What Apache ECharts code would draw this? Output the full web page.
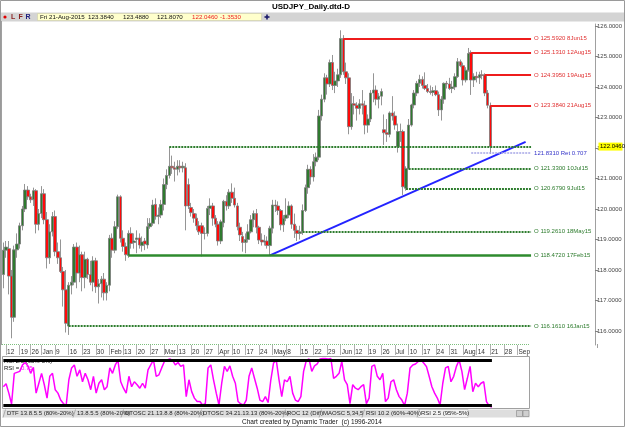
<!DOCTYPE html>
<html><head><meta charset="utf-8">
<script src="https://cdn.jsdelivr.net/npm/echarts@6/dist/echarts.min.js"></script>
<style>html,body{margin:0;padding:0;background:#fff}#c{width:625px;height:427px}</style>
</head><body><div id="c"></div>
<script>
// ---- calendar (trading days, Dec 25 and Jan 1 absent from the feed) ----
const startDay = [2014, 11, 11];
const skipDays = ['2014-12-25', '2015-01-01'];
const slotCount = 218;      // main panel slots (incl. future space)
const rsiSlotCount = 193;   // RSI panel slots
const monthNames = ['Jan','Feb','Mar','Apr','May','Jun','Jul','Aug','Sep','Oct','Nov','Dec'];

// ---- price data (Dec 11 2014 .. Aug 21 2015) ----
const openP = [117.85,118.65,118.70,117.80,116.45,118.66,118.85,119.45,120.00,120.62,
120.40,120.30,120.60,119.50,119.85,120.50,119.65,118.40,119.25,119.75,
118.60,118.40,117.95,117.35,116.161,117.50,117.60,118.75,117.90,118.50,
117.75,118.35,117.85,117.60,118.30,117.45,117.55,117.70,117.25,117.50,
119.04,118.65,119.42,120.40,119.04,118.77,118.472,119.20,118.90,119.00,
119.05,118.80,118.95,118.82,119.42,119.53,120.15,119.75,119.80,120.15,
120.80,121.10,121.40,121.35,121.30,121.40,121.35,121.35,120.80,120.05,
119.85,119.70,119.45,119.45,119.20,119.20,120.02,120.10,119.70,119.50,
118.95,119.55,120.25,120.10,120.55,120.35,120.10,119.40,119.10,118.90,
119.00,119.25,119.65,119.85,119.40,118.98,118.92,118.95,118.80,119.37,
120.13,120.10,119.95,119.48,119.70,119.80,120.10,119.50,119.30,119.20,
119.261,119.95,120.70,121.30,121.05,121.55,121.70,123.05,123.60,124.30,
124.10,124.80,124.05,124.20,124.40,125.592,124.50,124.30,122.70,123.45,
123.40,123.30,123.45,123.40,122.75,122.95,123.80,123.90,123.60,123.70,
122.60,122.50,122.45,123.15,123.05,122.04,122.54,122.54,120.679,121.33,
122.75,123.41,123.80,124.12,124.25,124.05,123.95,123.85,123.82,123.88,
123.75,123.25,123.60,124.12,124.10,123.95,124.00,124.34,124.83,124.70,
124.23,124.55,125.131,124.23,124.35,124.30,124.40,124.395,123.80,123.384];
const highP = [118.90,118.95,118.95,118.00,118.80,119.20,119.55,120.10,120.82,120.75,
120.50,120.70,120.65,120.00,120.75,120.65,119.90,119.50,119.90,119.95,
118.90,119.00,118.10,118.00,117.60,117.80,118.85,118.90,118.80,118.60,
118.60,118.40,118.30,118.45,118.40,117.70,117.80,117.90,117.60,119.15,
119.20,119.60,120.47,120.45,119.30,118.90,119.30,119.40,119.20,119.30,
119.20,119.10,119.05,119.70,119.70,120.30,120.35,120.05,120.30,121.00,
121.30,122.03,121.75,121.55,121.60,121.60,121.55,121.50,121.00,120.20,
120.00,119.85,119.60,119.55,119.40,120.10,120.35,120.20,119.80,119.60,
119.65,120.30,120.45,120.65,120.84,120.70,120.20,119.55,119.25,119.20,
119.50,119.80,119.95,120.00,119.45,119.20,119.15,119.10,119.45,120.30,
120.30,120.25,120.00,119.80,120.35,120.25,120.15,119.85,119.45,119.45,
120.15,120.80,121.45,121.40,121.80,121.85,123.25,123.75,124.45,124.40,
124.90,125.05,124.50,124.60,125.86,125.70,124.80,124.45,123.80,123.70,
123.50,123.60,123.90,123.55,123.10,123.90,124.45,124.05,123.80,123.95,
123.10,122.95,123.20,123.70,123.20,122.80,122.80,122.60,121.40,122.95,
123.45,123.90,124.20,124.40,124.35,124.48,124.10,124.05,124.00,124.05,
123.85,123.70,124.15,124.20,124.30,124.20,124.45,124.95,124.90,124.80,
124.65,125.28,125.20,124.45,124.50,124.50,124.55,124.45,123.90,123.488];
const lowP = [117.40,118.40,117.20,115.76,116.30,118.40,118.70,119.30,119.90,120.30,
120.20,120.10,119.20,119.30,119.70,119.50,118.05,118.20,119.10,118.45,
118.20,117.90,116.80,115.95,115.87,117.20,117.50,117.40,117.60,117.30,
117.40,117.70,117.50,117.30,117.25,116.90,117.10,117.00,117.00,117.30,
118.40,118.55,119.35,118.90,118.60,118.30,118.40,118.70,118.70,118.55,
118.70,118.60,118.65,118.70,119.35,119.45,119.65,119.50,119.70,119.95,
120.65,121.00,121.15,120.90,121.10,121.20,121.20,119.30,120.00,119.75,
119.55,119.30,119.15,118.44,119.00,119.10,119.80,119.45,119.40,118.80,
118.85,119.40,119.95,120.00,120.20,120.05,119.30,118.95,118.60,118.55,
118.90,119.20,119.40,119.20,118.85,118.80,118.80,118.70,118.47,119.20,
119.90,119.80,119.30,119.25,119.60,119.70,119.35,119.05,118.95,119.00,
119.15,119.90,120.50,120.80,120.90,121.40,121.60,122.90,123.50,123.75,
124.00,123.90,123.80,124.00,124.30,124.40,124.10,122.45,122.60,123.10,
122.90,123.10,123.10,122.45,122.50,122.85,123.50,123.40,123.30,123.40,
122.10,122.20,122.35,122.90,122.60,121.85,122.20,120.46,120.60,121.30,
122.70,123.30,123.70,124.00,123.95,123.90,123.80,123.75,123.70,123.70,
123.05,122.90,123.45,123.95,123.90,123.80,123.90,124.30,124.65,124.05,
124.15,124.50,123.74,124.00,124.15,124.10,124.25,123.70,123.30,121.807];
const closeP = [118.65,118.75,117.80,116.45,118.66,118.85,119.45,120.00,120.62,120.40,
120.30,120.60,119.50,119.85,120.50,119.65,118.40,119.25,119.75,118.60,
118.40,117.95,117.35,116.25,117.50,117.60,118.75,117.90,118.50,117.75,
118.35,117.85,117.60,118.30,117.45,117.55,117.70,117.25,117.50,119.04,
118.65,119.42,120.40,119.04,118.77,118.50,119.20,118.87,118.95,119.05,
118.82,118.92,118.85,119.42,119.53,120.13,119.75,119.80,120.15,120.80,
121.10,121.40,121.35,121.30,121.40,121.35,121.40,120.10,120.10,119.88,
119.70,119.45,119.25,119.20,119.20,120.02,120.10,119.70,119.50,118.95,
119.58,120.25,120.10,120.55,120.35,120.13,119.42,119.15,118.90,119.00,
119.25,119.65,119.85,119.40,118.98,118.92,118.95,118.80,119.37,120.13,
120.10,119.95,119.48,119.70,119.80,120.10,119.50,119.30,119.20,119.25,
119.95,120.70,121.30,121.05,121.55,121.70,123.05,123.60,124.30,124.10,
124.80,124.05,124.20,124.40,125.59,124.50,124.30,122.70,123.45,123.40,
123.30,123.45,123.40,122.75,122.95,123.80,123.90,123.60,123.70,123.85,
122.50,122.45,123.15,123.05,122.75,122.54,122.54,120.73,121.33,122.75,
123.41,123.80,124.12,124.25,124.05,123.95,123.85,123.82,123.88,123.75,
123.25,123.60,124.12,124.10,123.95,124.00,124.34,124.83,124.70,124.23,
124.55,125.10,124.23,124.35,124.30,124.40,124.38,123.80,123.40,122.046];

// ---- RSI 2.5 values ----
const rsiVals = [42,48,29,7,69,71,73,86,91,84,
69,81,29,49,69,46,19,63,69,36,
29,15,8,4,56,80,86,63,76,52,
69,56,36,63,29,49,56,36,42,80,
69,86,95,52,39,29,63,42,52,46,
39,49,39,76,86,96,63,66,80,93,
96,98,95,86,91,83,86,22,56,32,
19,12,12,5,8,80,86,56,29,5,
49,83,73,84,63,49,12,7,5,15,
63,80,59,39,15,12,22,10,56,90,
95,56,22,56,52,63,29,15,12,22,
73,95,98,73,84,88,98,99,99,98,
99,59,63,69,93,56,46,8,46,39,
36,42,46,8,19,83,86,63,56,69,
12,19,52,56,36,22,15,4,29,80,
86,88,93,96,90,83,63,42,29,19,
5,49,80,83,52,63,83,96,73,36,
59,83,32,49,42,49,52,12,3,0.75];
const rsiBands = [95, 5];

// ---- horizontal levels ----
const levelPrices = [125.592, 125.131, 124.395, 123.384, 122.030, 121.831, 121.330, 120.679, 119.261, 118.472, 116.161];
const levelStarts = ['2015-06-08','2015-08-12','2015-08-19','2015-08-21','2015-03-10','2015-08-12','2015-07-10','2015-07-09','2015-05-18','2015-02-17','2015-01-16'];
const levelTexts = ['O 125.5920 8Jun15','O 125.1310 12Aug15','O 124.3950 19Aug15','O 123.3840 21Aug15','','121.8310 Ret 0.707','O 121.3300 10Jul15','O 120.6790 9Jul15','O 119.2610 18May15','O 118.4720 17Feb15','O 116.1610 16Jan15'];
const levelKinds = ['r','r','r','r','g','b','g','g','g','G','g'];
const levelEndDate = '2015-09-11';

// ---- trend line (two anchors) ----
const trendDates = ['2015-04-30', '2015-09-09'];
const trendPrices = [118.48, 122.20];

const lastPrice = 122.046;
const priceTicks = [116,117,118,119,120,121,122,123,124,125,126];

// ---------------------------------------------------------------
function buildDates() {
  const d = new Date(Date.UTC(startDay[0], startDay[1], startDay[2]));
  const out = [];
  while (out.length < slotCount) {
    const dow = d.getUTCDay();
    const s = d.toISOString().slice(0, 10);
    if (dow !== 0 && dow !== 6 && skipDays.indexOf(s) < 0) out.push(s);
    d.setUTCDate(d.getUTCDate() + 1);
  }
  return out;
}
const dates = buildDates();
const idx = s => dates.indexOf(s);
const ohlc = openP.map((o, i) => [o, closeP[i], lowP[i], highP[i]]);

const FONT = 'Liberation Sans, Arial, sans-serif';
function showTick(i) {
  if (i > 190) return false;
  const d = new Date(dates[i] + 'T00:00:00Z');
  return d.getUTCDay() === 5;
}
function tickText(v) {
  const d = new Date(v + 'T00:00:00Z');
  const day = d.getUTCDate();
  return day <= 7 ? monthNames[d.getUTCMonth()] : String(day);
}

const kindStyle = {
  r: {color: '#ee1c1c', width: 2, type: 'solid', txt: '#e03030'},
  g: {color: '#2e7d2e', width: 2, type: [2, 1], txt: '#2b7a2b'},
  G: {color: '#2e8b2e', width: 2.5, type: 'solid', txt: '#2b7a2b'},
  b: {color: '#a6a6e6', width: 1.5, type: [2, 1], txt: '#3434c8'}
};
const endIdx = idx(levelEndDate);
const levelLines = levelPrices.map((p, i) => {
  const st = kindStyle[levelKinds[i]];
  return [{
    coord: [idx(levelStarts[i]), p],
    lineStyle: {color: st.color, width: st.width, type: st.type},
    label: {show: levelTexts[i] !== '', position: 'end', distance: 3, formatter: levelTexts[i],
            color: st.txt, fontSize: 6, fontFamily: FONT}
  }, {coord: [endIdx, p]}];
});

const chart = echarts.init(document.getElementById('c'), null, {renderer: 'canvas'});

const tabs = [
  ['DTF 13.8.5.5 (80%-20%)', 7], ['13.8.5.5 (80%-20%)', 77], ['DTOSC 21.13.8.8 (80%-20%)', 125],
  ['DTOSC 34.21.13.13 (80%-20%)', 203], ['ROC 12 (Diff)', 287], ['MAOSC 5,34,5', 323],
  ['RSI 10.2 (60%-40%)', 366], ['RSI 2.5 (95%-5%)', 421]
];
const txt = (t, x, y, o) => Object.assign({type: 'text', x: x, y: y, silent: true,
  style: Object.assign({text: t, font: '6.5px ' + FONT, fill: '#111', align: 'left', verticalAlign: 'middle',
    textAlign: 'left', textVerticalAlign: 'middle'}, o || {})});

const graphics = [
  {type: 'rect', shape: {x: 0.5, y: 0.5, width: 624, height: 426}, style: {fill: 'none', stroke: '#9a9a9a'}, silent: true},
  txt('USDJPY_Daily.dtd-D', 311, 6.5, {font: 'bold 8px ' + FONT, align: 'center', textAlign: 'center', fill: '#000'}),
  {type: 'rect', shape: {x: 1, y: 12.5, width: 623, height: 9}, style: {fill: '#d4d4d4'}, silent: true},
  {type: 'circle', shape: {cx: 5, cy: 17, r: 1.6}, style: {fill: '#e00000'}, silent: true},
  txt('L', 11, 17, {font: 'bold 7px ' + FONT, fill: '#8a2020'}),
  txt('F', 18.5, 17, {font: 'bold 7px ' + FONT, fill: '#8a2020'}),
  txt('R', 25.5, 17, {font: 'bold 7px ' + FONT, fill: '#202080'}),
  {type: 'rect', shape: {x: 37.5, y: 13.5, width: 224, height: 7}, style: {fill: '#ffffcc', stroke: '#c8c8a0', lineWidth: 0.5}, silent: true},
  txt('Fri 21-Aug-2015', 40, 17.2, {font: '6.2px ' + FONT}),
  txt('123.3840', 88, 17.2, {font: '6.2px ' + FONT}), txt('123.4880', 123, 17.2, {font: '6.2px ' + FONT}),
  txt('121.8070', 157, 17.2, {font: '6.2px ' + FONT}),
  txt('122.0460', 192, 17.2, {font: '6.2px ' + FONT, fill: '#ee2020'}),
  txt('-1.3530', 220, 17.2, {font: '6.2px ' + FONT, fill: '#ee2020'}),
  {type: 'rect', shape: {x: 264.5, y: 16.2, width: 5, height: 1.6}, style: {fill: '#1a1a6a'}, silent: true},
  {type: 'rect', shape: {x: 266.2, y: 14.5, width: 1.6, height: 5}, style: {fill: '#1a1a6a'}, silent: true},
  {type: 'line', shape: {x1: 1.5, y1: 21, x2: 1.5, y2: 345}, style: {stroke: '#a0a0a0'}, silent: true},
  {type: 'line', shape: {x1: 2, y1: 344.5, x2: 530, y2: 344.5}, style: {stroke: '#7cbf7c', lineDash: [1, 1]}, silent: true},
  {type: 'line', shape: {x1: 597.5, y1: 344, x2: 597.5, y2: 348}, style: {stroke: '#a0a0a0'}, silent: true},
  {type: 'rect', shape: {x: 2.5, y: 356.5, width: 527, height: 52}, style: {fill: 'none', stroke: '#a0a0a0'}, silent: true},
  txt('RSI 2.5 (95%-5%)', 4, 361.2, {font: '6px ' + FONT}),
  txt('RSI =', 4, 368, {font: '6px ' + FONT}),
  txt('0.75', 21, 368, {font: '6px ' + FONT, fill: '#ff00ff'}),
  {type: 'rect', shape: {x: 2.5, y: 409.5, width: 527, height: 8}, style: {fill: '#dedede'}, silent: true},
  {type: 'rect', shape: {x: 418, y: 409.5, width: 50, height: 8}, style: {fill: '#f2f2f2', stroke: '#b0b0b0', lineWidth: 0.5}, silent: true},
  {type: 'rect', shape: {x: 516.5, y: 410.5, width: 6, height: 6}, style: {fill: '#cfcfcf', stroke: '#777', lineWidth: 0.5}, silent: true},
  {type: 'rect', shape: {x: 523, y: 410.5, width: 6, height: 6}, style: {fill: '#cfcfcf', stroke: '#777', lineWidth: 0.5}, silent: true},
  txt('Chart created by Dynamic Trader  (c) 1996-2014', 312, 422, {font: '6.5px ' + FONT, align: 'center', textAlign: 'center'})
];
tabs.forEach(t => {
  graphics.push(txt(t[0], t[1], 413.6, {font: '6px ' + FONT, fill: '#222'}));
  graphics.push({type: 'line', shape: {x1: t[1] - 4, y1: 417.5, x2: t[1] - 1.5, y2: 409.5}, style: {stroke: '#888', lineWidth: 0.6}, silent: true});
});

chart.setOption({
  animation: false,
  backgroundColor: '#ffffff',
  grid: [
    {left: 2, top: 24, width: 595, height: 321},
    {left: 2, top: 358, width: rsiSlotCount * 595 / slotCount, height: 49.5}
  ],
  xAxis: [
    {type: 'category', gridIndex: 0, data: dates, boundaryGap: true,
     axisLine: {show: false},
     axisTick: {show: true, alignWithLabel: true, interval: showTick, length: 10, lineStyle: {color: '#b0b0b0'}},
     axisLabel: {show: true, interval: showTick, formatter: tickText, align: 'left', margin: 4,
                 padding: [0, 0, 0, 1], fontSize: 6.5, fontFamily: FONT, color: '#333', hideOverlap: false},
     splitLine: {show: false}},
    {type: 'category', gridIndex: 1, data: dates.slice(0, rsiSlotCount), boundaryGap: true, show: false}
  ],
  yAxis: [
    {type: 'value', gridIndex: 0, position: 'right', min: 115.54, max: 126.066, scale: true,
     axisLine: {show: true, lineStyle: {color: '#a0a0a0'}},
     axisTick: {show: true, length: 3, customValues: priceTicks, lineStyle: {color: '#808080'}},
     axisLabel: {show: true, customValues: priceTicks, formatter: v => v.toFixed(4), margin: 2,
                 fontSize: 6, fontFamily: FONT, color: '#444'},
     splitLine: {show: false}},
    {type: 'value', gridIndex: 1, min: 0, max: 100, show: false}
  ],
  graphic: graphics,
  series: [
    {type: 'candlestick', xAxisIndex: 0, yAxisIndex: 0, data: ohlc, barWidth: 3,
     itemStyle: {color: '#2f7a2f', color0: '#ff0a0a', borderColor: '#7a7a7a', borderColor0: '#7a7a7a', borderWidth: 0.8},
     markLine: {symbol: 'none', silent: true, animation: false, data: levelLines}},
    {type: 'line', xAxisIndex: 0, yAxisIndex: 0, symbol: 'none', z: 4,
     data: trendDates.map((d, i) => [idx(d), trendPrices[i]]),
     lineStyle: {color: '#2323ff', width: 2}},
    {type: 'line', xAxisIndex: 1, yAxisIndex: 1, symbol: 'none', data: rsiVals, z: 3,
     lineStyle: {color: '#ff00ff', width: 1.5},
     markLine: {symbol: 'none', silent: true, animation: false,
       data: rsiBands.map(b => [{coord: [0, b], lineStyle: {color: '#000', width: 3, type: 'solid'}, label: {show: false}},
                                {coord: [rsiVals.length - 1, b]}])}}
  ]
});

// yellow last-price tag on the price axis, placed through the axis scale
const tagY = chart.convertToPixel({yAxisIndex: 0}, lastPrice);
graphics.push({type: 'rect', z: 100, shape: {x: 598.5, y: tagY - 4, width: 24, height: 8}, style: {fill: '#ffff00'}, silent: true});
graphics.push(Object.assign(txt(lastPrice.toFixed(4), 600, tagY, {font: '6px ' + FONT, fill: '#000'}), {z: 101}));
chart.setOption({graphic: graphics});
</script></body></html>
